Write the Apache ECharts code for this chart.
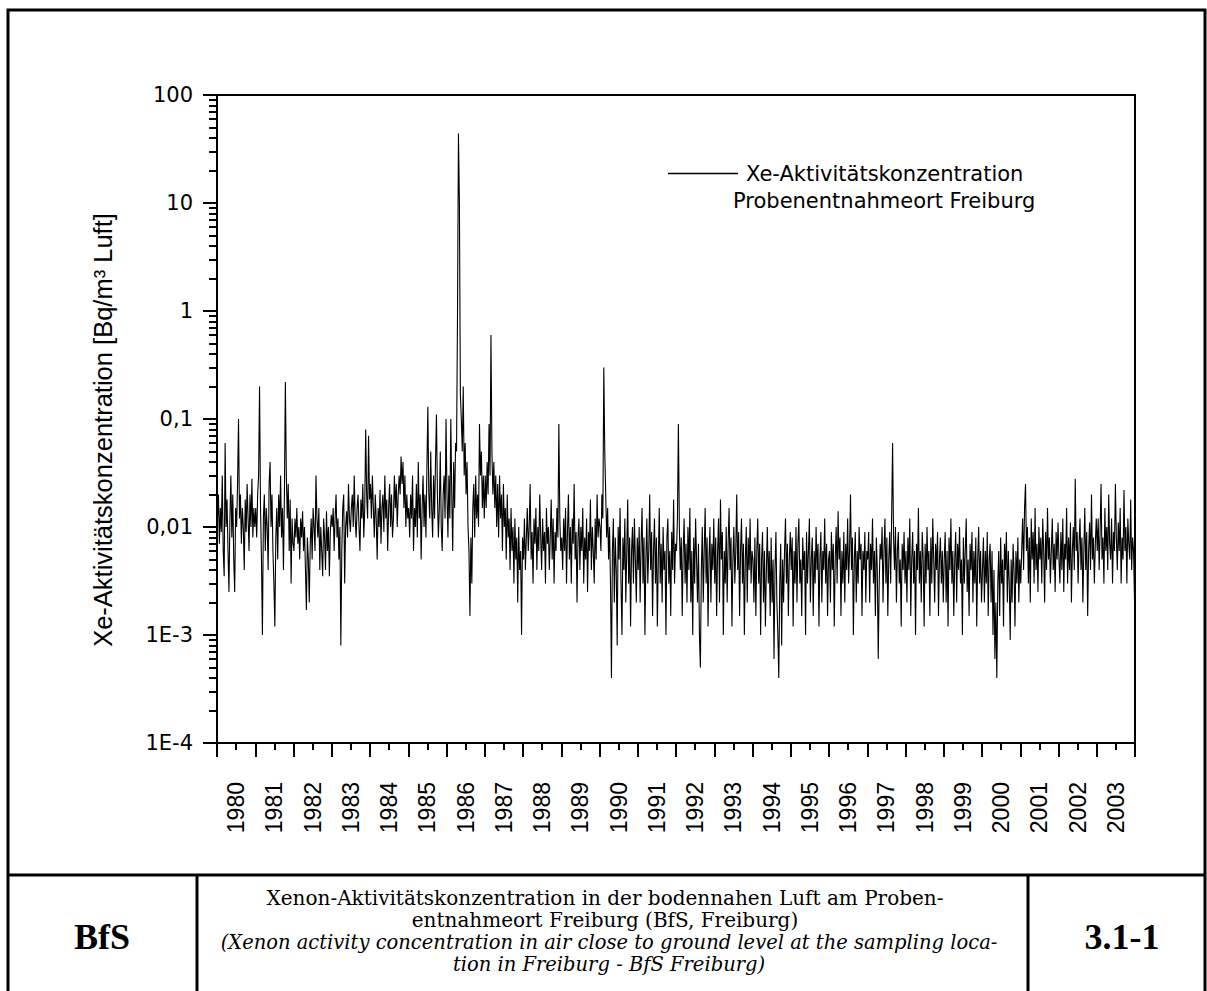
<!DOCTYPE html>
<html>
<head>
<meta charset="utf-8">
<script src="https://cdn.jsdelivr.net/npm/echarts@6/dist/echarts.min.js"></script>
<style>
  html, body { margin: 0; padding: 0; background: #fff; }
  #chart { width: 1207px; height: 991px; }
</style>
</head>
<body>
<div id="chart"></div>
<script>
// year labels on the x axis
const years = ['1980', '1981', '1982', '1983', '1984', '1985', '1986', '1987', '1988', '1989', '1990', '1991',
  '1992', '1993', '1994', '1995', '1996', '1997', '1998', '1999', '2000', '2001', '2002', '2003']

// y tick labels (log axis, one per decade)
const yTickValues = [0.0001, 0.001, 0.01, 0.1, 1, 10, 100]
const yTickLabels = ['1E-4', '1E-3', '0,01', '0,1', '1', '10', '100']

// Xe activity concentration [Bq/m³], 40 samples per year
const xe1980 = [0.012, 0.02, 0.007, 0.015, 0.009, 0.03, 0.006, 0.0035, 0.06, 0.01, 0.018, 0.006, 0.0025, 0.012, 0.03, 0.008, 0.02, 0.005, 0.0025, 0.015, 0.01, 0.025, 0.1, 0.012, 0.02, 0.007, 0.015, 0.01, 0.004, 0.018, 0.009, 0.025, 0.012, 0.006, 0.02, 0.01, 0.028, 0.008, 0.015, 0.01]
const xe1981 = [0.015, 0.008, 0.02, 0.03, 0.2, 0.015, 0.005, 0.001, 0.012, 0.02, 0.006, 0.015, 0.01, 0.004, 0.025, 0.04, 0.01, 0.02, 0.006, 0.003, 0.0012, 0.008, 0.015, 0.005, 0.02, 0.01, 0.03, 0.008, 0.015, 0.004, 0.02, 0.22, 0.03, 0.012, 0.025, 0.006, 0.018, 0.003, 0.012, 0.007]
const xe1982 = [0.006, 0.012, 0.008, 0.015, 0.007, 0.01, 0.005, 0.012, 0.008, 0.014, 0.006, 0.01, 0.004, 0.0017, 0.008, 0.005, 0.002, 0.007, 0.012, 0.005, 0.015, 0.01, 0.006, 0.03, 0.012, 0.008, 0.015, 0.004, 0.01, 0.006, 0.0035, 0.012, 0.008, 0.004, 0.014, 0.006, 0.01, 0.0035, 0.009, 0.013]
const xe1983 = [0.01, 0.015, 0.006, 0.012, 0.02, 0.008, 0.012, 0.005, 0.01, 0.0008, 0.006, 0.015, 0.02, 0.003, 0.01, 0.014, 0.008, 0.025, 0.012, 0.009, 0.015, 0.02, 0.01, 0.03, 0.012, 0.008, 0.015, 0.02, 0.01, 0.006, 0.018, 0.012, 0.025, 0.008, 0.015, 0.08, 0.02, 0.012, 0.07, 0.018]
const xe1984 = [0.025, 0.012, 0.03, 0.015, 0.008, 0.02, 0.012, 0.005, 0.015, 0.01, 0.022, 0.007, 0.015, 0.02, 0.009, 0.03, 0.012, 0.018, 0.006, 0.015, 0.025, 0.01, 0.02, 0.008, 0.012, 0.03, 0.015, 0.025, 0.01, 0.02, 0.03, 0.02, 0.045, 0.025, 0.04, 0.015, 0.03, 0.01, 0.02, 0.012]
const xe1985 = [0.015, 0.008, 0.02, 0.012, 0.03, 0.006, 0.015, 0.01, 0.025, 0.008, 0.04, 0.012, 0.02, 0.005, 0.015, 0.03, 0.01, 0.02, 0.008, 0.035, 0.13, 0.02, 0.012, 0.05, 0.015, 0.008, 0.03, 0.012, 0.04, 0.11, 0.02, 0.008, 0.015, 0.05, 0.01, 0.006, 0.02, 0.03, 0.012, 0.1]
const xe1986 = [0.02, 0.008, 0.03, 0.012, 0.1, 0.02, 0.006, 0.04, 0.015, 0.06, 0.05, 0.9, 44, 10, 0.17, 0.1, 0.05, 0.2, 0.03, 0.06, 0.02, 0.04, 0.01, 0.006, 0.0015, 0.008, 0.003, 0.015, 0.025, 0.008, 0.03, 0.012, 0.02, 0.01, 0.09, 0.03, 0.05, 0.015, 0.03, 0.012]
const xe1987 = [0.03, 0.015, 0.04, 0.02, 0.09, 0.03, 0.6, 0.05, 0.02, 0.04, 0.015, 0.03, 0.01, 0.025, 0.008, 0.03, 0.012, 0.02, 0.006, 0.025, 0.01, 0.015, 0.005, 0.02, 0.008, 0.012, 0.004, 0.015, 0.006, 0.01, 0.003, 0.012, 0.005, 0.008, 0.002, 0.01, 0.004, 0.006, 0.001, 0.008]
const xe1988 = [0.005, 0.012, 0.004, 0.008, 0.015, 0.006, 0.01, 0.025, 0.005, 0.009, 0.003, 0.012, 0.007, 0.015, 0.004, 0.01, 0.006, 0.02, 0.008, 0.004, 0.012, 0.006, 0.009, 0.003, 0.015, 0.007, 0.01, 0.004, 0.008, 0.018, 0.005, 0.012, 0.003, 0.009, 0.006, 0.015, 0.008, 0.09, 0.012, 0.006]
const xe1989 = [0.008, 0.004, 0.012, 0.006, 0.015, 0.003, 0.009, 0.02, 0.005, 0.01, 0.003, 0.012, 0.007, 0.025, 0.005, 0.009, 0.002, 0.008, 0.012, 0.004, 0.01, 0.006, 0.015, 0.003, 0.008, 0.005, 0.012, 0.0025, 0.009, 0.006, 0.018, 0.004, 0.01, 0.006, 0.003, 0.012, 0.005, 0.02, 0.008, 0.012]
const xe1990 = [0.01, 0.006, 0.02, 0.012, 0.3, 0.05, 0.02, 0.008, 0.015, 0.005, 0.01, 0.003, 0.0004, 0.006, 0.012, 0.002, 0.008, 0.004, 0.0008, 0.01, 0.005, 0.015, 0.003, 0.001, 0.008, 0.004, 0.012, 0.002, 0.006, 0.018, 0.003, 0.008, 0.0012, 0.006, 0.01, 0.003, 0.012, 0.005, 0.002, 0.008]
const xe1991 = [0.004, 0.01, 0.002, 0.007, 0.015, 0.003, 0.008, 0.001, 0.005, 0.012, 0.003, 0.006, 0.02, 0.004, 0.009, 0.0015, 0.006, 0.012, 0.003, 0.008, 0.0012, 0.005, 0.015, 0.003, 0.007, 0.002, 0.01, 0.004, 0.006, 0.001, 0.008, 0.012, 0.003, 0.006, 0.0015, 0.009, 0.004, 0.018, 0.003, 0.007]
const xe1992 = [0.006, 0.012, 0.09, 0.01, 0.004, 0.008, 0.0015, 0.006, 0.012, 0.003, 0.007, 0.002, 0.01, 0.004, 0.015, 0.002, 0.006, 0.001, 0.008, 0.003, 0.012, 0.005, 0.002, 0.007, 0.001, 0.0005, 0.004, 0.01, 0.002, 0.006, 0.015, 0.003, 0.008, 0.0012, 0.005, 0.01, 0.002, 0.007, 0.004, 0.012]
const xe1993 = [0.003, 0.008, 0.0015, 0.006, 0.012, 0.002, 0.018, 0.005, 0.009, 0.001, 0.006, 0.003, 0.01, 0.002, 0.007, 0.015, 0.004, 0.008, 0.0012, 0.005, 0.01, 0.003, 0.006, 0.02, 0.004, 0.009, 0.0015, 0.006, 0.012, 0.003, 0.007, 0.001, 0.005, 0.01, 0.002, 0.008, 0.004, 0.012, 0.003, 0.006]
const xe1994 = [0.005, 0.002, 0.008, 0.0015, 0.006, 0.012, 0.003, 0.007, 0.001, 0.005, 0.009, 0.002, 0.006, 0.0012, 0.004, 0.01, 0.003, 0.006, 0.0015, 0.008, 0.002, 0.005, 0.0006, 0.004, 0.009, 0.002, 0.001, 0.0004, 0.003, 0.007, 0.0008, 0.005, 0.002, 0.006, 0.012, 0.003, 0.007, 0.0015, 0.005, 0.009]
const xe1995 = [0.004, 0.008, 0.0012, 0.006, 0.003, 0.01, 0.002, 0.007, 0.012, 0.003, 0.005, 0.0015, 0.008, 0.004, 0.006, 0.001, 0.009, 0.003, 0.006, 0.012, 0.002, 0.005, 0.008, 0.0015, 0.006, 0.003, 0.01, 0.004, 0.007, 0.0012, 0.005, 0.009, 0.002, 0.006, 0.004, 0.012, 0.003, 0.007, 0.0015, 0.005]
const xe1996 = [0.006, 0.002, 0.009, 0.004, 0.007, 0.0012, 0.005, 0.01, 0.003, 0.014, 0.005, 0.008, 0.0015, 0.006, 0.003, 0.009, 0.002, 0.007, 0.004, 0.012, 0.003, 0.006, 0.02, 0.004, 0.008, 0.001, 0.005, 0.009, 0.002, 0.006, 0.003, 0.01, 0.005, 0.007, 0.0015, 0.006, 0.004, 0.009, 0.002, 0.006]
const xe1997 = [0.005, 0.009, 0.002, 0.007, 0.004, 0.012, 0.003, 0.006, 0.0015, 0.008, 0.004, 0.0006, 0.003, 0.007, 0.005, 0.01, 0.002, 0.006, 0.012, 0.003, 0.008, 0.0015, 0.005, 0.009, 0.003, 0.012, 0.06, 0.008, 0.004, 0.01, 0.002, 0.006, 0.009, 0.003, 0.005, 0.0012, 0.007, 0.004, 0.009, 0.003]
const xe1998 = [0.006, 0.002, 0.008, 0.004, 0.012, 0.0015, 0.005, 0.009, 0.003, 0.006, 0.001, 0.007, 0.004, 0.015, 0.003, 0.006, 0.002, 0.009, 0.005, 0.0012, 0.007, 0.003, 0.01, 0.004, 0.006, 0.0015, 0.008, 0.003, 0.012, 0.005, 0.002, 0.007, 0.004, 0.009, 0.0015, 0.005, 0.008, 0.003, 0.006, 0.002]
const xe1999 = [0.005, 0.009, 0.002, 0.006, 0.0012, 0.008, 0.004, 0.012, 0.003, 0.006, 0.0015, 0.005, 0.009, 0.002, 0.007, 0.004, 0.01, 0.003, 0.005, 0.001, 0.008, 0.003, 0.006, 0.012, 0.0025, 0.005, 0.0015, 0.007, 0.004, 0.009, 0.002, 0.006, 0.003, 0.008, 0.0012, 0.005, 0.01, 0.003, 0.006, 0.002]
const xe2000 = [0.004, 0.008, 0.002, 0.006, 0.003, 0.009, 0.0015, 0.005, 0.007, 0.002, 0.006, 0.001, 0.004, 0.0006, 0.002, 0.0004, 0.003, 0.006, 0.0015, 0.008, 0.003, 0.005, 0.0012, 0.007, 0.004, 0.009, 0.002, 0.006, 0.003, 0.0009, 0.005, 0.002, 0.007, 0.004, 0.0012, 0.006, 0.003, 0.008, 0.002, 0.005]
const xe2001 = [0.003, 0.006, 0.012, 0.004, 0.015, 0.025, 0.006, 0.01, 0.003, 0.008, 0.002, 0.012, 0.005, 0.009, 0.003, 0.015, 0.004, 0.007, 0.0025, 0.01, 0.005, 0.008, 0.003, 0.012, 0.006, 0.002, 0.009, 0.004, 0.015, 0.005, 0.008, 0.003, 0.006, 0.012, 0.004, 0.007, 0.0025, 0.009, 0.005, 0.011]
const xe2002 = [0.005, 0.003, 0.009, 0.004, 0.012, 0.0025, 0.007, 0.005, 0.015, 0.003, 0.008, 0.004, 0.011, 0.002, 0.006, 0.01, 0.004, 0.028, 0.006, 0.009, 0.003, 0.007, 0.012, 0.004, 0.008, 0.002, 0.006, 0.015, 0.004, 0.009, 0.0015, 0.006, 0.011, 0.004, 0.02, 0.005, 0.008, 0.003, 0.007, 0.012]
const xe2003 = [0.006, 0.012, 0.004, 0.009, 0.025, 0.005, 0.008, 0.003, 0.015, 0.006, 0.01, 0.004, 0.02, 0.007, 0.005, 0.012, 0.003, 0.009, 0.006, 0.025, 0.008, 0.004, 0.011, 0.006, 0.015, 0.003, 0.008, 0.005, 0.022, 0.006, 0.01, 0.003, 0.012, 0.007, 0.005, 0.018, 0.004, 0.008, 0.006, 0.002]

const byYear = [xe1980, xe1981, xe1982, xe1983, xe1984, xe1985, xe1986, xe1987, xe1988, xe1989, xe1990, xe1991,
  xe1992, xe1993, xe1994, xe1995, xe1996, xe1997, xe1998, xe1999, xe2000, xe2001, xe2002, xe2003]

// samples spread evenly over each year -> [decimal year, value]
const points = []
byYear.forEach((vals, k) => {
  const y0 = Number(years[k])
  vals.forEach((v, i) => points.push([y0 + (i + 0.5) / vals.length, v]))
})

// log minor ticks 2..9 in every decade (drawn on a helper axis in log10 units)
const minorTicks = []
for (let e = -4; e < 2; e++) {
  for (let m = 2; m <= 9; m++) minorTicks.push(e + Math.log10(m))
}

const chart = echarts.init(document.getElementById('chart'), null, { renderer: 'svg' })

const sans = 'Liberation Sans, Arial, sans-serif'
const wide = 'DejaVu Sans, Arial, sans-serif'
const serif = 'DejaVu Serif, serif'
const timesBold = 'bold 36px Liberation Serif, Times New Roman, serif'

const option = {
  animation: false,
  backgroundColor: '#fff',
  grid: {
    left: 217,
    right: 72,
    top: 95,
    bottom: 248,
    show: true,
    borderColor: '#000',
    borderWidth: 2,
    backgroundColor: 'transparent',
  },
  legend: {
    left: 663,
    top: 158,
    itemWidth: 70,
    itemHeight: 1.5,
    itemGap: 0,
    data: [{ name: 'Xe-Aktivitätskonzentration', icon: 'rect' }],
    textStyle: { fontFamily: wide, fontSize: 21, color: '#000', padding: [0, 0, 0, 3] },
  },
  xAxis: [
    {
      type: 'value',
      min: 1980,
      max: 2004,
      interval: 1,
      axisLine: { onZero: false, lineStyle: { color: '#000', width: 2 } },
      axisTick: { length: 14, lineStyle: { color: '#000', width: 2 } },
      minorTick: { show: true, splitNumber: 2, length: 7, lineStyle: { color: '#000', width: 2 } },
      axisLabel: { show: false },
      splitLine: { show: false },
    },
    {
      type: 'category',
      data: years,
      position: 'bottom',
      boundaryGap: true,
      axisLine: { show: false, onZero: false },
      axisTick: { show: false },
      axisLabel: { interval: 0, rotate: 90, margin: 39, fontFamily: sans, fontSize: 23, color: '#000' },
    },
  ],
  yAxis: [
    {
      type: 'log',
      logBase: 10,
      min: 0.0001,
      max: 100,
      axisLine: { show: true, onZero: false, lineStyle: { color: '#000', width: 2 } },
      axisTick: { show: true, length: 14, lineStyle: { color: '#000', width: 2 } },
      axisLabel: {
        margin: 24,
        fontFamily: wide,
        fontSize: 21,
        color: '#000',
        formatter: (v) => {
          const i = yTickValues.findIndex((t) => Math.abs(Math.log10(t) - Math.log10(v)) < 1e-6)
          return i >= 0 ? yTickLabels[i] : ''
        },
      },
      splitLine: { show: false },
    },
    {
      type: 'value',
      min: -4,
      max: 2,
      position: 'left',
      axisLine: { show: false, onZero: false },
      axisLabel: { show: false },
      splitLine: { show: false },
      axisTick: { show: true, length: 8, customValues: minorTicks, lineStyle: { color: '#000', width: 2 } },
    },
  ],
  series: [
    {
      name: 'Xe-Aktivitätskonzentration',
      type: 'line',
      xAxisIndex: 0,
      yAxisIndex: 0,
      data: points,
      showSymbol: false,
      symbol: 'none',
      lineStyle: { color: '#000', width: 1.1 },
      itemStyle: { color: '#000' },
    },
  ],
  graphic: [
    // outer frame and the caption table
    { type: 'rect', shape: { x: 8, y: 10, width: 1197, height: 1000 }, style: { fill: 'none', stroke: '#000', lineWidth: 3 }, silent: true },
    { type: 'line', shape: { x1: 8, y1: 875, x2: 1205, y2: 875 }, style: { stroke: '#000', lineWidth: 3 } },
    { type: 'line', shape: { x1: 197, y1: 875, x2: 197, y2: 991 }, style: { stroke: '#000', lineWidth: 3 } },
    { type: 'line', shape: { x1: 1028, y1: 875, x2: 1028, y2: 991 }, style: { stroke: '#000', lineWidth: 3 } },
    // y axis title
    { type: 'text', x: 103, y: 430, rotation: Math.PI / 2, style: { text: 'Xe-Aktivitätskonzentration [Bq/m³ Luft]', font: '25.5px ' + sans, fill: '#000', align: 'center', verticalAlign: 'middle' } },
    // second legend line
    { type: 'text', left: 733, top: 190, style: { text: 'Probenentnahmeort Freiburg', font: '21px ' + wide, fill: '#000' } },
    // caption
    { type: 'text', x: 102, y: 937, style: { text: 'BfS', font: timesBold, fill: '#000', align: 'center', verticalAlign: 'middle' } },
    { type: 'text', x: 1122, y: 937, style: { text: '3.1-1', font: timesBold, fill: '#000', align: 'center', verticalAlign: 'middle' } },
    { type: 'text', x: 605, y: 898, style: { text: 'Xenon-Aktivitätskonzentration in der bodennahen Luft am Proben-', font: '20px ' + serif, fill: '#000', align: 'center', verticalAlign: 'middle' } },
    { type: 'text', x: 605, y: 920, style: { text: 'entnahmeort Freiburg (BfS, Freiburg)', font: '20px ' + serif, fill: '#000', align: 'center', verticalAlign: 'middle' } },
    { type: 'text', x: 609, y: 942, style: { text: '(Xenon activity concentration in air close to ground level at the sampling loca-', font: 'italic 19.5px ' + serif, fill: '#000', align: 'center', verticalAlign: 'middle' } },
    { type: 'text', x: 609, y: 964, style: { text: 'tion in Freiburg - BfS Freiburg)', font: 'italic 19.5px ' + serif, fill: '#000', align: 'center', verticalAlign: 'middle' } },
  ],
}

chart.setOption(option)
</script>
</body>
</html>
